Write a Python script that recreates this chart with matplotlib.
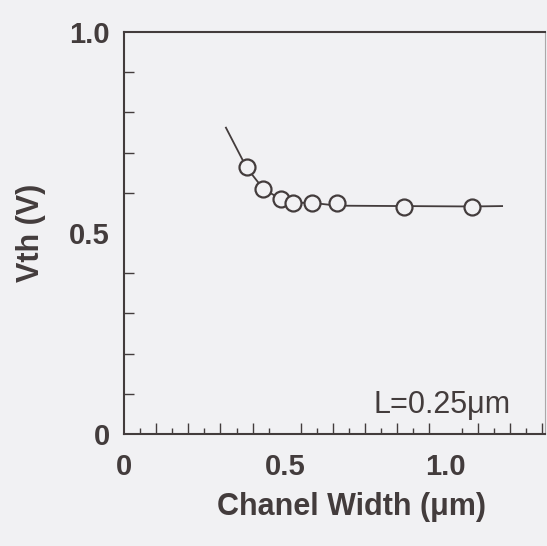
import matplotlib
matplotlib.use('Agg')
import matplotlib.pyplot as plt
from matplotlib.ticker import MultipleLocator

# 数据
width_um = [0.381, 0.433, 0.488, 0.526, 0.585, 0.664, 0.870, 1.082]
vth_v = [0.663, 0.610, 0.584, 0.575, 0.575, 0.575, 0.565, 0.564]

# 连线 (两端延伸)
line_x = [0.317, 0.381, 0.433, 0.488, 0.526, 0.585, 0.664, 0.870, 1.082, 1.176]
line_y = [0.762, 0.663, 0.610, 0.584, 0.575, 0.575, 0.568, 0.567, 0.566, 0.567]

xticks = [0, 0.5, 1.0]
xticklabels = ['0', '0.5', '1.0']
yticks = [0, 0.5, 1.0]
yticklabels = ['0', '0.5', '1.0']

bg = '#f1f1f3'
ink = '#433c3c'

plt.rcParams['font.family'] = ['Liberation Sans', 'DejaVu Sans']

fig = plt.figure(figsize=(5.47, 5.46), dpi=100, facecolor=bg)
ax = fig.add_axes([0.2267, 0.2051, 0.7700, 0.7363])
ax.set_facecolor(bg)

ax.plot(line_x, line_y, color=ink, lw=1.3, zorder=2)
ax.plot(width_um, vth_v, 'o', ms=11.5, mfc=bg, mec=ink, mew=1.6, zorder=3)

ax.set_xlim(0, 1.31)
ax.set_ylim(0, 1.0)

ax.set_xticks(xticks)
ax.set_xticklabels(xticklabels)
ax.set_yticks(yticks)
ax.set_yticklabels(yticklabels)
ax.xaxis.set_minor_locator(MultipleLocator(0.05))
ax.yaxis.set_minor_locator(MultipleLocator(0.1))

ax.tick_params(axis='both', which='major', direction='in', length=0,
               labelsize=21, labelcolor=ink, color=ink)
ax.tick_params(axis='y', which='major', pad=10)
ax.tick_params(axis='x', which='major', pad=14)
ax.tick_params(axis='both', which='minor', direction='in', length=7,
               width=1.0, color=ink)
ax.tick_params(axis='x', which='minor', length=4)
for lab in ax.get_xticklabels() + ax.get_yticklabels():
    lab.set_fontweight('bold')

# 0.1 刻度较长
for t in ax.xaxis.get_minor_ticks()[::2]:
    t.tick1line.set_markersize(8)

for s in ax.spines.values():
    s.set_color(ink)
    s.set_linewidth(1.5)
ax.spines['right'].set_linewidth(0.8)
ax.spines['right'].set_alpha(0.4)

ax.set_xlabel('Chanel Width (\u03bcm)', fontsize=22, fontweight='bold',
              color=ink)
ax.xaxis.set_label_coords(0.539, -0.145)
ax.set_ylabel('Vth (V)', fontsize=22, fontweight='bold', color=ink, labelpad=17)

ax.text(0.917, 0.052, 'L=0.25\u03bcm', transform=ax.transAxes, ha='right',
        va='baseline', fontsize=22, color=ink)

fig.savefig('out.png', dpi=100, facecolor=bg)
